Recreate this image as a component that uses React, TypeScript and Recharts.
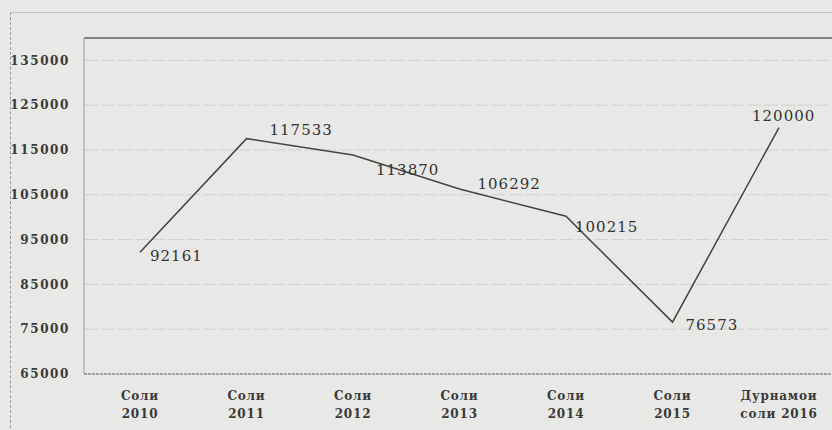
import React from 'react';
import {
  LineChart,
  Line,
  XAxis,
  YAxis,
  CartesianGrid,
  ReferenceLine,
  LabelList,
} from 'recharts';

const years = [
  'Соли 2010',
  'Соли 2011',
  'Соли 2012',
  'Соли 2013',
  'Соли 2014',
  'Соли 2015',
  'Дурнамои соли 2016',
];
const values = [92161, 117533, 113870, 106292, 100215, 76573, 120000];
const yTicks = [65000, 75000, 85000, 95000, 105000, 115000, 125000, 135000];

// where each value label sits relative to its point
const labelOffsets: [number, number][] = [
  [10, 9],
  [23, -4],
  [23, 20],
  [18, 0],
  [9, 16],
  [13, 8],
  [-27, -7],
];

const data = years.map((year, i) => ({ year, value: values[i] }));

const serif = '"DejaVu Serif", "Liberation Serif", serif';

const YearTick = (props: any) => {
  const { x, y, payload } = props;
  const text: string = payload.value;
  const cut = text.indexOf(' ');
  const first = text.slice(0, cut);
  const second = text.slice(cut + 1);
  return (
    <g transform={`translate(${x},${y})`}>
      <text
        textAnchor="middle"
        fill="#3a3a3a"
        fontFamily={serif}
        fontSize={12}
        fontWeight="bold"
        letterSpacing={0.8}
      >
        <tspan x={0} y={18}>{first}</tspan>
        <tspan x={0} y={36}>{second}</tspan>
      </text>
    </g>
  );
};

const ValueLabel = (props: any) => {
  const { x, y, value, index } = props;
  const [dx, dy] = labelOffsets[index];
  return (
    <text
      x={x + dx}
      y={y + dy}
      fill="#333"
      fontFamily={serif}
      fontSize={15}
      letterSpacing={1}
    >
      {value}
    </text>
  );
};

export default function App() {
  return (
    <div
      style={{
        position: 'absolute',
        left: 0,
        top: 0,
        width: 832,
        height: 430,
        background: '#e8e8e6',
        overflow: 'hidden',
      }}
    >
      <div
        style={{
          position: 'absolute',
          left: 10,
          top: 12,
          width: 830,
          height: 430,
          borderTop: '1px solid #c4c4c4',
          borderLeft: '1px dashed #9a9a9a',
        }}
      />
      <LineChart
        width={832}
        height={430}
        data={data}
        margin={{ top: 38, right: 0, bottom: 0, left: 0 }}
        style={{ position: 'absolute', left: 0, top: 0 }}
      >
        <CartesianGrid
          vertical={false}
          stroke="#cfcfcf"
          strokeDasharray="14 3"
        />
        <XAxis
          dataKey="year"
          tick={<YearTick />}
          tickLine={false}
          axisLine={{ stroke: '#666', strokeDasharray: '3 1' }}
          height={56}
          interval={0}
          padding={{ left: 56, right: 53 }}
        />
        <YAxis
          domain={[65000, 140000]}
          ticks={yTicks}
          width={84}
          tickLine={false}
          tickSize={0}
          tickMargin={14}
          axisLine={{ stroke: '#9a9a9a' }}
          tick={{
            fill: '#3a3a3a',
            fontFamily: serif,
            fontSize: 12,
            fontWeight: 'bold',
            letterSpacing: 1.6,
          }}
        />
        <ReferenceLine y={140000} stroke="#666" strokeWidth={1.5} />
        <Line
          type="linear"
          dataKey="value"
          stroke="#444"
          strokeWidth={1.5}
          dot={false}
          isAnimationActive={false}
        >
          <LabelList dataKey="value" content={<ValueLabel />} />
        </Line>
      </LineChart>
    </div>
  );
}
